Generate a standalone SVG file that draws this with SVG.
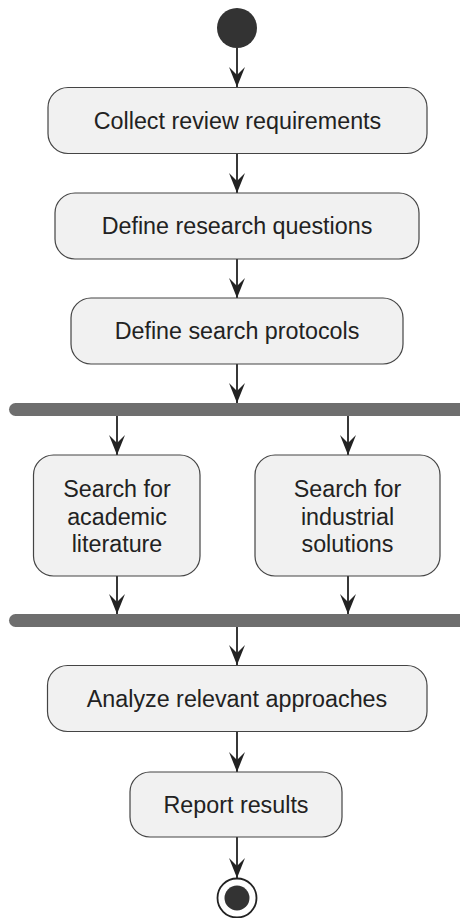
<svg xmlns="http://www.w3.org/2000/svg" width="460" height="918" viewBox="0 0 460 918">
<defs>
<style>
.box{fill:#f1f1f1;stroke:#444;stroke-width:1.2}
.lbl{font-family:"Liberation Sans",Arial,sans-serif;font-size:23.3px;fill:#222;text-anchor:middle}
.edge{stroke:#222;stroke-width:1.8;fill:none;marker-end:url(#ah)}
.bar{fill:#6e6e6e}
</style>
<marker id="ah" viewBox="0 0 20 16" refX="20" refY="8" markerWidth="20" markerHeight="16" markerUnits="userSpaceOnUse" orient="auto">
<path d="M0,0 L20,8 L0,16 L8,8 Z" fill="#222"/>
</marker>
</defs>
<g id="connectors">
<line class="edge" x1="237" y1="48" x2="237" y2="87"/>
<line class="edge" x1="237" y1="153" x2="237" y2="193"/>
<line class="edge" x1="237" y1="259" x2="237" y2="298"/>
<line class="edge" x1="237" y1="364" x2="237" y2="403"/>
<line class="edge" x1="117" y1="416" x2="117" y2="455"/>
<line class="edge" x1="348" y1="416" x2="348" y2="455"/>
<line class="edge" x1="117" y1="576" x2="117" y2="614"/>
<line class="edge" x1="348" y1="576" x2="348" y2="614"/>
<line class="edge" x1="237" y1="627" x2="237" y2="665"/>
<line class="edge" x1="237" y1="732" x2="237" y2="772"/>
<line class="edge" x1="237" y1="837" x2="237" y2="878"/>
</g>
<g id="start"><circle cx="237" cy="28" r="20" fill="#333"/></g>
<g id="collect">
<rect class="box" x="48" y="87.5" width="379" height="66" rx="20"/>
<text class="lbl" x="237.5" y="128.5">Collect review requirements</text>
</g>
<g id="define-rq">
<rect class="box" x="55" y="193" width="364" height="66" rx="20"/>
<text class="lbl" x="237" y="234">Define research questions</text>
</g>
<g id="define-sp">
<rect class="box" x="71" y="298" width="332" height="66" rx="20"/>
<text class="lbl" x="237" y="339">Define search protocols</text>
</g>
<g id="fork"><rect class="bar" x="9" y="403" width="470" height="13" rx="6.5"/></g>
<g id="search-academic">
<rect class="box" x="33.5" y="455" width="166.5" height="121" rx="20"/>
<text class="lbl" x="117" y="497">Search for</text>
<text class="lbl" x="117" y="525">academic</text>
<text class="lbl" x="117" y="552">literature</text>
</g>
<g id="search-industrial">
<rect class="box" x="255" y="455" width="185" height="121" rx="20"/>
<text class="lbl" x="347.5" y="497">Search for</text>
<text class="lbl" x="347.5" y="525">industrial</text>
<text class="lbl" x="347.5" y="552">solutions</text>
</g>
<g id="join"><rect class="bar" x="9" y="614" width="470" height="13" rx="6.5"/></g>
<g id="analyze">
<rect class="box" x="47.5" y="665.5" width="379.5" height="66" rx="20"/>
<text class="lbl" x="237" y="706.5">Analyze relevant approaches</text>
</g>
<g id="report">
<rect class="box" x="130" y="772" width="212" height="65" rx="20"/>
<text class="lbl" x="236" y="812.5">Report results</text>
</g>
<g id="end">
<circle cx="237" cy="898" r="19.5" fill="none" stroke="#222" stroke-width="1.8"/>
<circle cx="237" cy="898" r="12.5" fill="#333"/>
</g>
</svg>
